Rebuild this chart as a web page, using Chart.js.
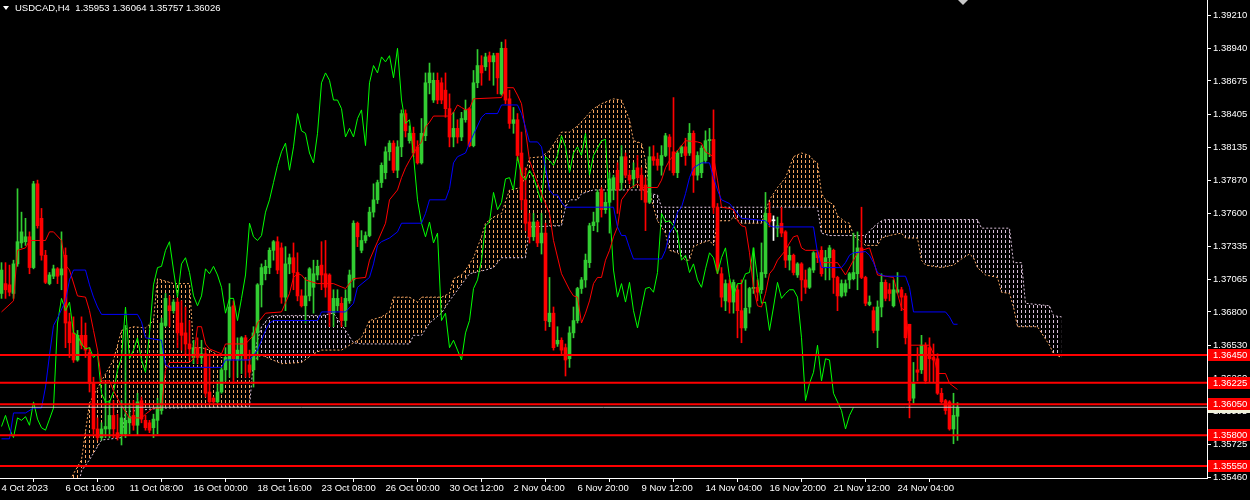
<!DOCTYPE html>
<html>
<head>
<meta charset="utf-8">
<script src="https://cdn.jsdelivr.net/npm/chart.js@4.4.0/dist/chart.umd.min.js"></script>
<style>
  html, body { margin: 0; padding: 0; background: #000; }
  #wrap { position: relative; width: 1250px; height: 500px; }
  #title { position: absolute; left: 15px; top: 2px; font: 9.5px "Liberation Sans", Arial, sans-serif; color: #fff; white-space: pre; }
  #tri { position: absolute; left: 3px; top: 6px; width: 0; height: 0; border-left: 3px solid transparent; border-right: 3px solid transparent; border-top: 4px solid #fff; }
  #shift { position: absolute; left: 958px; top: 0; width: 0; height: 0; border-left: 5px solid transparent; border-right: 5px solid transparent; border-top: 5px solid #c8c8c8; }
</style>
</head>
<body>
<div id="wrap">
  <canvas id="chart" width="1250" height="500"></canvas>
  <div id="tri"></div>
  <div id="title">USDCAD,H4  1.35953 1.36064 1.35757 1.36026</div>
  <div id="shift"></div>
</div>
<script>
// H4 candles, bar 0 = 4 Oct 2023 (left edge), bar 239 = current bar
const opens = [
  1.3695,1.3703,1.3702,1.3695,1.3719,1.3736,1.3737,1.3741,1.3716,1.3784,
  1.3756,1.3726,1.3703,1.3709,1.3715,1.3710,1.3726,1.3672,1.3663,1.3641,
  1.3661,1.3661,1.3647,1.3622,1.3585,1.3578,1.3585,1.3585,1.3596,1.3582,
  1.3581,1.3581,1.3590,1.3596,1.3588,1.3608,1.3592,1.3590,1.3586,1.3592,
  1.3600,1.3669,1.3685,1.3681,1.3688,1.3671,1.3663,1.3654,1.3643,1.3651,
  1.3643,1.3646,1.3615,1.3610,1.3607,1.3615,1.3633,1.3641,1.3685,1.3641,
  1.3646,1.3659,1.3637,1.3633,1.3663,1.3702,1.3711,1.3716,1.3730,1.3737,
  1.3732,1.3692,1.3719,1.3724,1.3712,1.3693,1.3685,1.3693,1.3700,1.3710,
  1.3718,1.3711,1.3710,1.3679,1.3685,1.3687,1.3673,1.3689,1.3706,1.3752,
  1.3730,1.3738,1.3742,1.3761,1.3771,1.3785,1.3793,1.3810,1.3817,1.3795,
  1.3814,1.3841,1.3819,1.3825,1.3814,1.3801,1.3823,1.3866,1.3852,1.3868,
  1.3866,1.3860,1.3845,1.3822,1.3829,1.3822,1.3836,1.3845,1.3815,1.3866,
  1.3880,1.3879,1.3888,1.3883,1.3890,1.3857,1.3894,1.3853,1.3833,1.3836,
  1.3809,1.3771,1.3753,1.3741,1.3753,1.3736,1.3744,1.3672,1.3679,1.3654,
  1.3657,1.3651,1.3642,1.3663,1.3673,1.3699,1.3706,1.3720,1.3750,1.3753,
  1.3779,1.3763,1.3769,1.3779,1.3795,1.3785,1.3806,1.3791,1.3788,1.3797,
  1.3791,1.3783,1.3769,1.3806,1.3804,1.3799,1.3807,1.3822,1.3810,1.3793,
  1.3809,1.3814,1.3809,1.3825,1.3791,1.3793,1.3803,1.3819,1.3820,1.3765,
  1.3711,1.3689,1.3703,1.3688,1.3698,1.3681,1.3667,1.3684,1.3699,1.3700,
  1.3698,1.3711,1.3760,1.3754,1.3748,1.3752,1.3745,1.3722,1.3726,1.3710,
  1.3719,1.3706,1.3700,1.3714,1.3728,1.3730,1.3716,1.3724,1.3730,1.3708,
  1.3693,1.3696,1.3706,1.3707,1.3711,1.3732,1.3708,1.3686,1.3681,1.3665,
  1.3684,1.3704,1.3698,1.3685,1.3696,1.3698,1.3693,1.3670,1.3610,1.3633,
  1.3633,1.3653,1.3651,1.3643,1.3642,1.3614,1.3608,1.3607,1.3585,1.35953
];
const highs = [
  1.3720,1.3720,1.3718,1.3722,1.3780,1.3761,1.3756,1.3745,1.3786,1.3787,
  1.3764,1.3730,1.3712,1.3718,1.3716,1.3745,1.3732,1.3679,1.3676,1.3665,
  1.3676,1.3671,1.3651,1.3627,1.3594,1.3590,1.3622,1.3608,1.3608,1.3597,
  1.3608,1.3669,1.3606,1.3608,1.3614,1.3611,1.3596,1.3592,1.3597,1.3610,
  1.3675,1.3695,1.3693,1.3690,1.3691,1.3689,1.3684,1.3673,1.3657,1.3659,
  1.3657,1.3651,1.3646,1.3611,1.3624,1.3635,1.3651,1.3703,1.3689,1.3659,
  1.3660,1.3661,1.3649,1.3668,1.3703,1.3719,1.3722,1.3732,1.3738,1.3741,
  1.3736,1.3733,1.3727,1.3736,1.3728,1.3698,1.3708,1.3716,1.3722,1.3722,
  1.3737,1.3738,1.3711,1.3698,1.3698,1.3692,1.3698,1.3714,1.3754,1.3753,
  1.3746,1.3745,1.3765,1.3784,1.3787,1.3801,1.3814,1.3819,1.3819,1.3819,
  1.3844,1.3844,1.3831,1.3830,1.3819,1.3837,1.3874,1.3882,1.3874,1.3874,
  1.3870,1.3874,1.3857,1.3842,1.3836,1.3842,1.3852,1.3846,1.3876,1.3893,
  1.3888,1.3890,1.3891,1.3890,1.3890,1.3899,1.3901,1.3860,1.3846,1.3841,
  1.3826,1.3797,1.3760,1.3760,1.3754,1.3760,1.3752,1.3708,1.3684,1.3668,
  1.3659,1.3654,1.3668,1.3684,1.3700,1.3708,1.3727,1.3752,1.3761,1.3779,
  1.3781,1.3777,1.3793,1.3791,1.3801,1.3815,1.3809,1.3795,1.3801,1.3807,
  1.3797,1.3789,1.3814,1.3815,1.3809,1.3815,1.3825,1.3824,1.3854,1.3811,
  1.3815,1.3821,1.3833,1.3827,1.3810,1.3815,1.3827,1.3829,1.3844,1.3768,
  1.3716,1.3706,1.3706,1.3706,1.3702,1.3706,1.3706,1.3700,1.3732,1.3706,
  1.3736,1.3777,1.3769,1.3758,1.3757,1.3765,1.3746,1.3733,1.3727,1.3720,
  1.3720,1.3714,1.3716,1.3729,1.3730,1.3733,1.3730,1.3734,1.3731,1.3709,
  1.3706,1.3706,1.3712,1.3744,1.3745,1.3765,1.3709,1.3693,1.3684,1.3689,
  1.3711,1.3706,1.3703,1.3706,1.3712,1.3700,1.3695,1.3670,1.3639,1.3651,
  1.3661,1.3655,1.3659,1.3654,1.3646,1.3618,1.3609,1.3608,1.3614,1.36064
];
const lows = [
  1.3691,1.3691,1.3693,1.3691,1.3717,1.3732,1.3734,1.3711,1.3715,1.3748,
  1.3722,1.3703,1.3702,1.3707,1.3703,1.3698,1.3651,1.3643,1.3639,1.3640,
  1.3650,1.3643,1.3615,1.3581,1.3576,1.3576,1.3578,1.3578,1.3578,1.3576,
  1.3572,1.3578,1.3581,1.3584,1.3580,1.3590,1.3584,1.3582,1.3578,1.3581,
  1.3597,1.3668,1.3668,1.3679,1.3651,1.3649,1.3646,1.3641,1.3638,1.3638,
  1.3638,1.3611,1.3606,1.3606,1.3606,1.3614,1.3624,1.3627,1.3622,1.3627,
  1.3630,1.3627,1.3627,1.3619,1.3641,1.3684,1.3706,1.3711,1.3722,1.3711,
  1.3687,1.3681,1.3711,1.3698,1.3689,1.3684,1.3671,1.3689,1.3679,1.3706,
  1.3698,1.3692,1.3668,1.3668,1.3681,1.3668,1.3668,1.3687,1.3700,1.3733,
  1.3728,1.3736,1.3741,1.3757,1.3768,1.3781,1.3788,1.3803,1.3793,1.3789,
  1.3806,1.3822,1.3817,1.3806,1.3800,1.3800,1.3819,1.3857,1.3850,1.3849,
  1.3849,1.3838,1.3814,1.3814,1.3817,1.3819,1.3834,1.3814,1.3814,1.3862,
  1.3864,1.3876,1.3868,1.3864,1.3857,1.3856,1.3849,1.3829,1.3825,1.3803,
  1.3763,1.3746,1.3736,1.3738,1.3733,1.3727,1.3665,1.3668,1.3649,1.3652,
  1.3646,1.3628,1.3635,1.3659,1.3671,1.3695,1.3700,1.3716,1.3746,1.3745,
  1.3757,1.3760,1.3744,1.3771,1.3760,1.3779,1.3789,1.3784,1.3781,1.3787,
  1.3771,1.3746,1.3768,1.3799,1.3795,1.3791,1.3806,1.3795,1.3791,1.3789,
  1.3806,1.3799,1.3807,1.3777,1.3787,1.3789,1.3801,1.3806,1.3760,1.3711,
  1.3684,1.3681,1.3679,1.3679,1.3659,1.3655,1.3665,1.3679,1.3695,1.3689,
  1.3695,1.3708,1.3749,1.3738,1.3741,1.3741,1.3716,1.3714,1.3710,1.3708,
  1.3689,1.3695,1.3699,1.3712,1.3720,1.3709,1.3706,1.3706,1.3695,1.3681,
  1.3692,1.3693,1.3699,1.3706,1.3698,1.3707,1.3685,1.3685,1.3663,1.3651,
  1.3676,1.3689,1.3689,1.3684,1.3695,1.3681,1.3654,1.3594,1.3606,1.3624,
  1.3630,1.3622,1.3623,1.3623,1.3613,1.3606,1.3597,1.3584,1.3573,1.35757
];
const closes = [
  1.3714,1.3698,1.3696,1.3719,1.3737,1.3745,1.3741,1.3716,1.3784,1.3750,
  1.3726,1.3704,1.3710,1.3715,1.3709,1.3715,1.3671,1.3655,1.3641,1.3661,
  1.3653,1.3649,1.3622,1.3585,1.3578,1.3585,1.3587,1.3596,1.3585,1.3578,
  1.3594,1.3592,1.3595,1.3588,1.3607,1.3593,1.3586,1.3584,1.3593,1.3602,
  1.3671,1.3691,1.3681,1.3688,1.3663,1.3661,1.3654,1.3650,1.3651,1.3643,
  1.3646,1.3614,1.3607,1.3607,1.3615,1.3633,1.3643,1.3684,1.3642,1.3649,
  1.3659,1.3641,1.3631,1.3663,1.3702,1.3716,1.3717,1.3730,1.3737,1.3714,
  1.3692,1.3719,1.3724,1.3712,1.3693,1.3685,1.3693,1.3715,1.3711,1.3717,
  1.3710,1.3700,1.3679,1.3691,1.3691,1.3673,1.3691,1.3710,1.3752,1.3741,
  1.3738,1.3742,1.3761,1.3771,1.3785,1.3799,1.3810,1.3817,1.3795,1.3814,
  1.3841,1.3827,1.3825,1.3809,1.3801,1.3825,1.3866,1.3874,1.3868,1.3852,
  1.3852,1.3845,1.3822,1.3829,1.3822,1.3837,1.3844,1.3815,1.3866,1.3880,
  1.3874,1.3887,1.3883,1.3888,1.3870,1.3894,1.3852,1.3833,1.3836,1.3807,
  1.3771,1.3752,1.3741,1.3753,1.3736,1.3744,1.3673,1.3679,1.3651,1.3657,
  1.3649,1.3641,1.3663,1.3673,1.3699,1.3706,1.3722,1.3750,1.3753,1.3777,
  1.3763,1.3769,1.3788,1.3789,1.3779,1.3806,1.3791,1.3787,1.3795,1.3789,
  1.3779,1.3769,1.3806,1.3803,1.3799,1.3807,1.3823,1.3814,1.3793,1.3809,
  1.3814,1.3807,1.3825,1.3791,1.3807,1.3813,1.3819,1.3820,1.3765,1.3714,
  1.3692,1.3703,1.3688,1.3704,1.3681,1.3667,1.3683,1.3699,1.3700,1.3696,
  1.3712,1.3760,1.3753,1.3754,1.3750,1.3744,1.3722,1.3726,1.3712,1.3719,
  1.3706,1.3700,1.3715,1.3728,1.3724,1.3711,1.3724,1.3732,1.3708,1.3693,
  1.3703,1.3703,1.3711,1.3712,1.3732,1.3708,1.3687,1.3688,1.3665,1.3684,
  1.3704,1.3691,1.3695,1.3698,1.3698,1.3692,1.3659,1.3608,1.3622,1.3631,
  1.3653,1.3624,1.3642,1.3641,1.3614,1.3607,1.3600,1.3585,1.3596,1.36026
];

// Ichimoku lines as [bar, price] vertices
const tenkan = [
  [0,1.3680],[3,1.3689],[4,1.3730],[6,1.3732],[7,1.3738],[11,1.3738],[12,1.3745],[13,1.3745],[15,1.3738],
  [16,1.3718],[17,1.3714],[19,1.3693],[21,1.3692],[22,1.3681],[23,1.3665],[24,1.3649],[25,1.3624],[27,1.3624],
  [28,1.3616],[30,1.3604],[32,1.3594],[35,1.3594],[36,1.3597],[38,1.3602],[40,1.3602],[41,1.3633],[42,1.3639],
  [47,1.3639],[48,1.3642],[49,1.3668],[50,1.3668],[51,1.3654],[52,1.3650],[55,1.3646],[56,1.3654],[61,1.3654],
  [63,1.3661],[64,1.3671],[66,1.3679],[70,1.3680],[72,1.3695],[73,1.3708],[74,1.3711],[75,1.3710],[76,1.3706],
  [79,1.3703],[83,1.3703],[86,1.3699],[88,1.3707],[91,1.3708],[92,1.3722],[94,1.3737],[96,1.3752],[97,1.3771],
  [99,1.3779],[100,1.3789],[101,1.3797],[102,1.3803],[104,1.3814],[105,1.3818],[106,1.3830],[107,1.3834],
  [108,1.3839],[112,1.3839],[113,1.3842],[114,1.3848],[115,1.3846],[116,1.3844],[117,1.3845],[118,1.3853],
  [125,1.3854],[126,1.3862],[128,1.3862],[129,1.3856],[130,1.3849],[131,1.3827],[132,1.3803],[135,1.3776],
  [137,1.3760],[138,1.3738],[140,1.3711],[142,1.3698],[143,1.3693],[144,1.3692],[145,1.3671],[146,1.3679],
  [147,1.3689],[148,1.3703],[149,1.3708],[150,1.3708],[151,1.3722],[152,1.3730],[153,1.3741],[154,1.3749],
  [155,1.3771],[157,1.3780],[159,1.3784],[160,1.3781],[164,1.3781],[165,1.3787],[166,1.3797],[167,1.3803],
  [168,1.3807],[171,1.3819],[174,1.3818],[175,1.3817],[176,1.3810],[178,1.3806],[179,1.3787],[180,1.3765],
  [182,1.3764],[183,1.3763],[184,1.3754],[185,1.3750],[186,1.3749],[187,1.3728],[188,1.3700],[189,1.3685],
  [190,1.3684],[191,1.3695],[192,1.3711],[193,1.3715],[194,1.3722],[196,1.3730],[197,1.3736],[198,1.3741],
  [199,1.3742],[200,1.3732],[201,1.3730],[204,1.3730],[205,1.3720],[209,1.3720],[210,1.3715],[211,1.3710],
  [213,1.3722],[214,1.3728],[215,1.3730],[217,1.3732],[218,1.3722],[219,1.3710],[223,1.3708],[224,1.3695],
  [225,1.3683],[226,1.3681],[227,1.3653],[232,1.3653],[233,1.3646],[234,1.3630],[236,1.3630],[237,1.3622],
  [239,1.3617]
];
const kijun = [
  [0,1.3577],[2,1.3577],[3,1.3598],[6,1.3598],[8,1.3602],[10,1.3602],[11,1.3619],[12,1.3645],[13,1.3669],
  [14,1.3675],[16,1.3689],[17,1.3706],[18,1.3714],[21,1.3714],[22,1.3702],[23,1.3692],[24,1.3684],[25,1.3678],
  [34,1.3678],[35,1.3672],[36,1.3659],[40,1.3657],[41,1.3637],[42,1.3635],[55,1.3635],[56,1.3641],[62,1.3641],
  [64,1.3649],[65,1.3657],[66,1.3665],[67,1.3671],[68,1.3673],[79,1.3673],[80,1.3680],[86,1.3680],[88,1.3687],
  [89,1.3700],[92,1.3708],[93,1.3719],[94,1.3734],[95,1.3737],[97,1.3740],[99,1.3745],[100,1.3752],[105,1.3752],
  [106,1.3760],[107,1.3771],[111,1.3771],[112,1.3780],[113,1.3801],[114,1.3806],[116,1.3809],[117,1.3817],
  [120,1.3838],[121,1.3841],[124,1.3841],[125,1.3848],[129,1.3848],[130,1.3841],[131,1.3830],[132,1.3818],
  [134,1.3818],[135,1.3814],[136,1.3797],[137,1.3779],[138,1.3775],[139,1.3775],[140,1.3769],[141,1.3765],
  [153,1.3765],[154,1.3749],[155,1.3742],[156,1.3742],[157,1.3732],[158,1.3723],[165,1.3723],[166,1.3730],
  [167,1.3744],[168,1.3749],[169,1.3761],[170,1.3765],[171,1.3776],[172,1.3789],[173,1.3797],[175,1.3801],
  [177,1.3801],[178,1.3789],[179,1.3779],[180,1.3771],[182,1.3768],[183,1.3764],[184,1.3760],[185,1.3756],
  [191,1.3754],[192,1.3750],[193,1.3749],[203,1.3749],[204,1.3728],[205,1.3716],[210,1.3716],[211,1.3720],
  [212,1.3726],[213,1.3728],[216,1.3729],[217,1.3726],[218,1.3720],[219,1.3712],[220,1.3710],[221,1.3709],
  [226,1.3709],[227,1.3700],[228,1.3680],[236,1.3680],[237,1.3676],[238,1.3670],[239,1.3670]
];
const spanA = [
  [0,1.3520],[16,1.3525],[17,1.3543],[20,1.3560],[22,1.3606],[25,1.3624],[28,1.3641],[30,1.3665],[33,1.3668],
  [36,1.3667],[38,1.3673],[39,1.3707],[43,1.3703],[47,1.3703],[48,1.3651],[50,1.3651],[52,1.3649],[55,1.3643],
  [62,1.3641],[63,1.3641],[65,1.3645],[70,1.3638],[75,1.3639],[78,1.3646],[80,1.3649],[85,1.3649],[88,1.3655],
  [90,1.3659],[92,1.3673],[95,1.3676],[97,1.3680],[98,1.3692],[102,1.3692],[104,1.3688],[105,1.3692],[110,1.3692],
  [112,1.3695],[113,1.3707],[115,1.3710],[116,1.3714],[118,1.3724],[120,1.3741],[121,1.3752],[123,1.3757],
  [125,1.3760],[127,1.3779],[130,1.3781],[132,1.3805],[135,1.3806],[137,1.3811],[140,1.3826],[142,1.3826],
  [144,1.3831],[146,1.3838],[148,1.3845],[150,1.3849],[153,1.3853],[155,1.3852],[157,1.3836],[158,1.3819],
  [160,1.3817],[161,1.3803],[162,1.3779],[163,1.3765],[164,1.3754],[166,1.3744],[167,1.3730],[169,1.3728],
  [171,1.3722],[172,1.3722],[173,1.3733],[175,1.3736],[177,1.3738],[178,1.3734],[179,1.3754],[182,1.3754],
  [183,1.3757],[185,1.3752],[190,1.3752],[192,1.3771],[194,1.3781],[196,1.3789],[197,1.3797],[198,1.3806],
  [200,1.3809],[202,1.3807],[203,1.3803],[204,1.3801],[205,1.3776],[206,1.3771],[208,1.3767],[209,1.3758],
  [211,1.3753],[212,1.3752],[213,1.3742],[216,1.3734],[219,1.3734],[220,1.3740],[222,1.3742],[225,1.3744],
  [226,1.3740],[229,1.3740],[230,1.3722],[231,1.3718],[235,1.3716],[238,1.3718],[240,1.3723],[242,1.3727],
  [243,1.3724],[244,1.3716],[246,1.3710],[249,1.3708],[250,1.3696],[252,1.3695],[253,1.3684],[254,1.3668],
  [259,1.3668],[260,1.3663],[262,1.3653],[263,1.3646],[265,1.3643]
];
const spanB = [
  [0,1.3505],[18,1.3520],[20,1.3551],[22,1.3560],[25,1.3576],[30,1.3578],[31,1.3599],[40,1.3602],[62,1.3603],
  [63,1.3641],[64,1.3657],[65,1.3668],[67,1.3676],[68,1.3677],[80,1.3677],[83,1.3679],[86,1.3665],[88,1.3655],
  [90,1.3654],[102,1.3654],[103,1.3661],[105,1.3661],[107,1.3671],[110,1.3679],[112,1.3689],[117,1.3711],
  [121,1.3714],[123,1.3716],[125,1.3724],[131,1.3724],[132,1.3749],[140,1.3750],[141,1.3765],[142,1.3771],
  [144,1.3771],[145,1.3776],[148,1.3779],[161,1.3779],[162,1.3776],[164,1.3775],[165,1.3765],[204,1.3765],
  [205,1.3744],[207,1.3742],[216,1.3742],[218,1.3749],[220,1.3754],[221,1.3755],[244,1.3755],[245,1.3748],
  [252,1.3748],[253,1.3720],[255,1.3720],[256,1.3687],[262,1.3685],[263,1.3677],[265,1.3676]
];
const chikouShift = 26;

// horizontal levels and the bid line
const levels = [1.36450, 1.36225, 1.36050, 1.35800, 1.35550];
const bidPrice = 1.36026;

// axis ticks
const priceTicks = [1.39210, 1.38940, 1.38675, 1.38405, 1.38135, 1.37870, 1.37600, 1.37335,
                    1.37065, 1.36800, 1.36530, 1.36260, 1.35995, 1.35725, 1.35460];
const timeTicks = [0, 16, 32, 48, 64, 80, 96, 112, 128, 144, 160, 176, 192, 208, 224];
const timeLabels = ["4 Oct 2023", "6 Oct 16:00", "11 Oct 08:00", "16 Oct 00:00", "18 Oct 16:00",
                    "23 Oct 08:00", "26 Oct 00:00", "30 Oct 12:00", "2 Nov 04:00", "6 Nov 20:00",
                    "9 Nov 12:00", "14 Nov 04:00", "16 Nov 20:00", "21 Nov 12:00", "24 Nov 04:00"];

const FONT = '"Liberation Sans", Arial, sans-serif';
const FONT_SIZE = 9.5;
const BULL = '#32cd32';
const BEAR = '#ff0000';
const SPAN_A_COLOR = '#f4a460';
const SPAN_B_COLOR = '#d8bfd8';

const canvas = document.getElementById('chart');
const ctx = canvas.getContext('2d');

// vertical dotted hatching like the MT4 cloud histogram
function hatch(color) {
  const tile = document.createElement('canvas');
  tile.width = 4;
  tile.height = 5;
  const g = tile.getContext('2d');
  g.fillStyle = color;
  g.fillRect(1, 0, 1, 3);
  return ctx.createPattern(tile, 'repeat');
}

const toPoints = (arr) => arr.map(([x, y]) => ({ x: x, y: y }));

const bodies = opens.map((o, i) => ({ x: i, y: [o, closes[i]] }));
const wicks = opens.map((o, i) => ({ x: i, y: [lows[i], highs[i]] }));
const candleColors = opens.map((o, i) => closes[i] > o ? BULL : (closes[i] < o ? BEAR : '#ffffff'));
const chikou = closes.slice(chikouShift).map((c, k) => ({ x: k, y: c }));

function hLine(v, color, width, order) {
  return {
    type: 'line',
    data: [{ x: -1, y: v }, { x: 302, y: v }],
    borderColor: color,
    borderWidth: width,
    pointRadius: 0,
    order: order,
  };
}

// right-axis tags for the levels
const levelTags = {
  id: 'levelTags',
  afterDraw(chart) {
    const c = chart.ctx;
    const y = chart.scales.y;
    c.save();
    c.font = FONT_SIZE + 'px ' + FONT;
    c.textBaseline = 'middle';
    c.textAlign = 'left';
    const tag = (v, bg, fg) => {
      const py = Math.round(y.getPixelForValue(v));
      c.fillStyle = bg;
      c.fillRect(1208, py - 6, 42, 12);
      c.fillStyle = fg;
      c.fillText(v.toFixed(5), 1213, py);
    };
    tag(bidPrice, '#f0f0d8', '#000000');
    levels.forEach((v) => tag(v, '#ff0000', '#ffffff'));
    c.restore();
  },
};

Chart.defaults.font.family = FONT;
Chart.defaults.font.size = FONT_SIZE;

new Chart(ctx, {
  type: 'bar',
  data: {
    datasets: [
      {
        type: 'line',
        data: toPoints(spanA),
        borderColor: SPAN_A_COLOR,
        borderWidth: 1,
        borderDash: [2, 2],
        pointRadius: 0,
        fill: { target: '+1', above: hatch(SPAN_A_COLOR), below: hatch(SPAN_B_COLOR) },
        order: 10,
      },
      {
        type: 'line',
        data: toPoints(spanB),
        borderColor: SPAN_B_COLOR,
        borderWidth: 1,
        borderDash: [2, 2],
        pointRadius: 0,
        fill: false,
        order: 9,
      },
      {
        type: 'bar',
        data: wicks,
        backgroundColor: candleColors,
        barThickness: 1,
        grouped: false,
        minBarLength: 1,
        order: 6,
      },
      {
        type: 'bar',
        data: bodies,
        backgroundColor: candleColors,
        barThickness: 3,
        grouped: false,
        minBarLength: 1,
        order: 5,
      },
      {
        type: 'line',
        data: toPoints(kijun),
        borderColor: '#0000ff',
        borderWidth: 1,
        pointRadius: 0,
        order: 3,
      },
      {
        type: 'line',
        data: toPoints(tenkan),
        borderColor: '#ff0000',
        borderWidth: 1,
        pointRadius: 0,
        order: 3,
      },
      {
        type: 'line',
        data: chikou,
        borderColor: '#00ff00',
        borderWidth: 1,
        pointRadius: 0,
        order: 3,
      },
      hLine(bidPrice, '#c0c0c0', 1, 2),
      ...levels.map((v) => hLine(v, '#ff0000', 2, 1)),
    ],
  },
  options: {
    responsive: false,
    animation: false,
    devicePixelRatio: 1,
    events: [],
    layout: { padding: 0 },
    plugins: { legend: { display: false }, tooltip: { enabled: false } },
    scales: {
      x: {
        type: 'linear',
        min: -0.375,
        max: 301.375,
        offset: false,
        grid: { drawOnChartArea: false, drawTicks: true, tickLength: 4, color: '#ffffff' },
        border: { display: true, color: '#ffffff' },
        afterBuildTicks: (s) => { s.ticks = timeTicks.map((v) => ({ value: v })); },
        afterFit: (s) => { s.height = 22; s.paddingLeft = 0; s.paddingRight = 0; },
        ticks: {
          color: '#ffffff',
          autoSkip: false,
          maxRotation: 0,
          align: 'start',
          padding: 1,
          callback: (v, i) => timeLabels[i],
        },
      },
      y: {
        position: 'right',
        min: 1.35452,
        max: 1.39332,
        grid: { drawOnChartArea: false, drawTicks: true, tickLength: 4, color: '#ffffff' },
        border: { display: true, color: '#ffffff' },
        afterBuildTicks: (s) => { s.ticks = priceTicks.map((v) => ({ value: v })); },
        afterFit: (s) => { s.width = 43; s.paddingTop = 0; s.paddingBottom = 0; },
        ticks: {
          color: '#ffffff',
          autoSkip: false,
          padding: 2,
          callback: (v) => v.toFixed(5),
        },
      },
    },
  },
  plugins: [levelTags],
});
</script>
</body>
</html>
